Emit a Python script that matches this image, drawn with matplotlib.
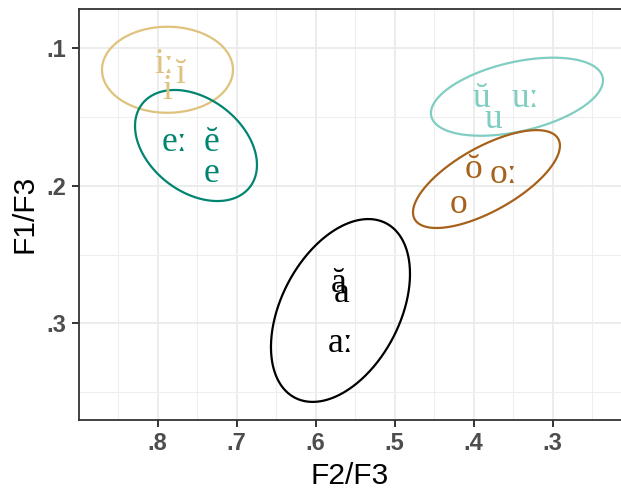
import numpy as np
import matplotlib
matplotlib.use("Agg")
import matplotlib.pyplot as plt
from matplotlib.ticker import MultipleLocator, FixedLocator, FixedFormatter

# Vowel groups: ellipse centre, half extents along each axis, and x/y correlation
groups = ["i", "e", "u", "o", "a"]
group_colors = ["#DFC27D", "#018571", "#80CDC1", "#A6611A", "#000000"]
ell_cx = [0.7875, 0.7514, 0.3451, 0.3837, 0.5685]
ell_cy = [0.1156, 0.1707, 0.1352, 0.1951, 0.2907]
ell_hx = [0.0829, 0.0772, 0.1089, 0.0930, 0.0880]
ell_hy = [0.0313, 0.0404, 0.0284, 0.0356, 0.0665]
ell_r = [0.0, -0.35, 0.42, 0.68, 0.40]

# Vowel labels (F2/F3, F1/F3) with group index
labels = ["iː", "ĭ", "i", "eː", "ĕ", "e", "ŭ", "uː", "u", "ŏ", "oː", "o", "ă", "a", "aː"]
label_group = [0, 0, 0, 1, 1, 1, 2, 2, 2, 3, 3, 3, 4, 4, 4]
label_f2 = [0.7913, 0.7704, 0.7875, 0.7792, 0.7324, 0.7324, 0.3906, 0.3343, 0.3754,
            0.3995, 0.3628, 0.4197, 0.5704, 0.5666, 0.5685]
label_f1 = [0.1182, 0.1250, 0.1371, 0.1745, 0.1745, 0.1970, 0.1425, 0.1425, 0.1582,
            0.1945, 0.1977, 0.2200, 0.2770, 0.2843, 0.3207]

x_ticks = [0.8, 0.7, 0.6, 0.5, 0.4, 0.3]
x_tick_labels = [".8", ".7", ".6", ".5", ".4", ".3"]
y_ticks = [0.1, 0.2, 0.3]
y_tick_labels = [".1", ".2", ".3"]

W, H, DPI = 621, 496, 100
fig = plt.figure(figsize=(W / DPI, H / DPI), dpi=DPI)
ax = fig.add_axes([79 / W, 1 - 419.5 / H, 1 - 79 / W, (419.5 - 9) / H])

# grid
ax.xaxis.set_major_locator(FixedLocator(x_ticks))
ax.xaxis.set_major_formatter(FixedFormatter(x_tick_labels))
ax.yaxis.set_major_locator(FixedLocator(y_ticks))
ax.yaxis.set_major_formatter(FixedFormatter(y_tick_labels))
ax.xaxis.set_minor_locator(MultipleLocator(0.05))
ax.yaxis.set_minor_locator(MultipleLocator(0.05))
ax.grid(True, which="major", color="#EBEBEB", linewidth=1.3)
ax.grid(True, which="minor", color="#EEEEEE", linewidth=0.75)
ax.set_axisbelow(True)

t = np.linspace(0, 2 * np.pi, 400)
for cx, cy, hx, hy, r, col in zip(ell_cx, ell_cy, ell_hx, ell_hy, ell_r, group_colors):
    d = np.arccos(r)
    ax.plot(cx + hx * np.cos(t), cy + hy * np.cos(t - d), color=col, linewidth=1.6,
            solid_capstyle="round")

for lab, g, x, y in zip(labels, label_group, label_f2, label_f1):
    ax.text(x, y, lab, color=group_colors[g], ha="center", va="baseline",
            fontsize=25.5, family=["Liberation Serif", "DejaVu Serif"])

ax.set_xlim(0.8995, 0.2134)
ax.set_ylim(0.370, 0.0714)

for side in ["left", "bottom", "top"]:
    ax.spines[side].set_color("#333333")
    ax.spines[side].set_linewidth(1.3)
ax.spines["right"].set_visible(False)

ax.tick_params(which="major", length=5, width=1.4, color="#333333",
               labelcolor="#4D4D4D", labelsize=17, pad=4)
ax.tick_params(which="minor", length=0)
for lbl in ax.get_xticklabels() + ax.get_yticklabels():
    lbl.set_fontweight("bold")
    lbl.set_family("Liberation Sans")

ax.set_xlabel("F2/F3", fontsize=21.5, family="Liberation Sans", labelpad=5)
ax.set_ylabel("F1/F3", fontsize=21.5, family="Liberation Sans", labelpad=6)

fig.savefig("out.png", dpi=DPI)
